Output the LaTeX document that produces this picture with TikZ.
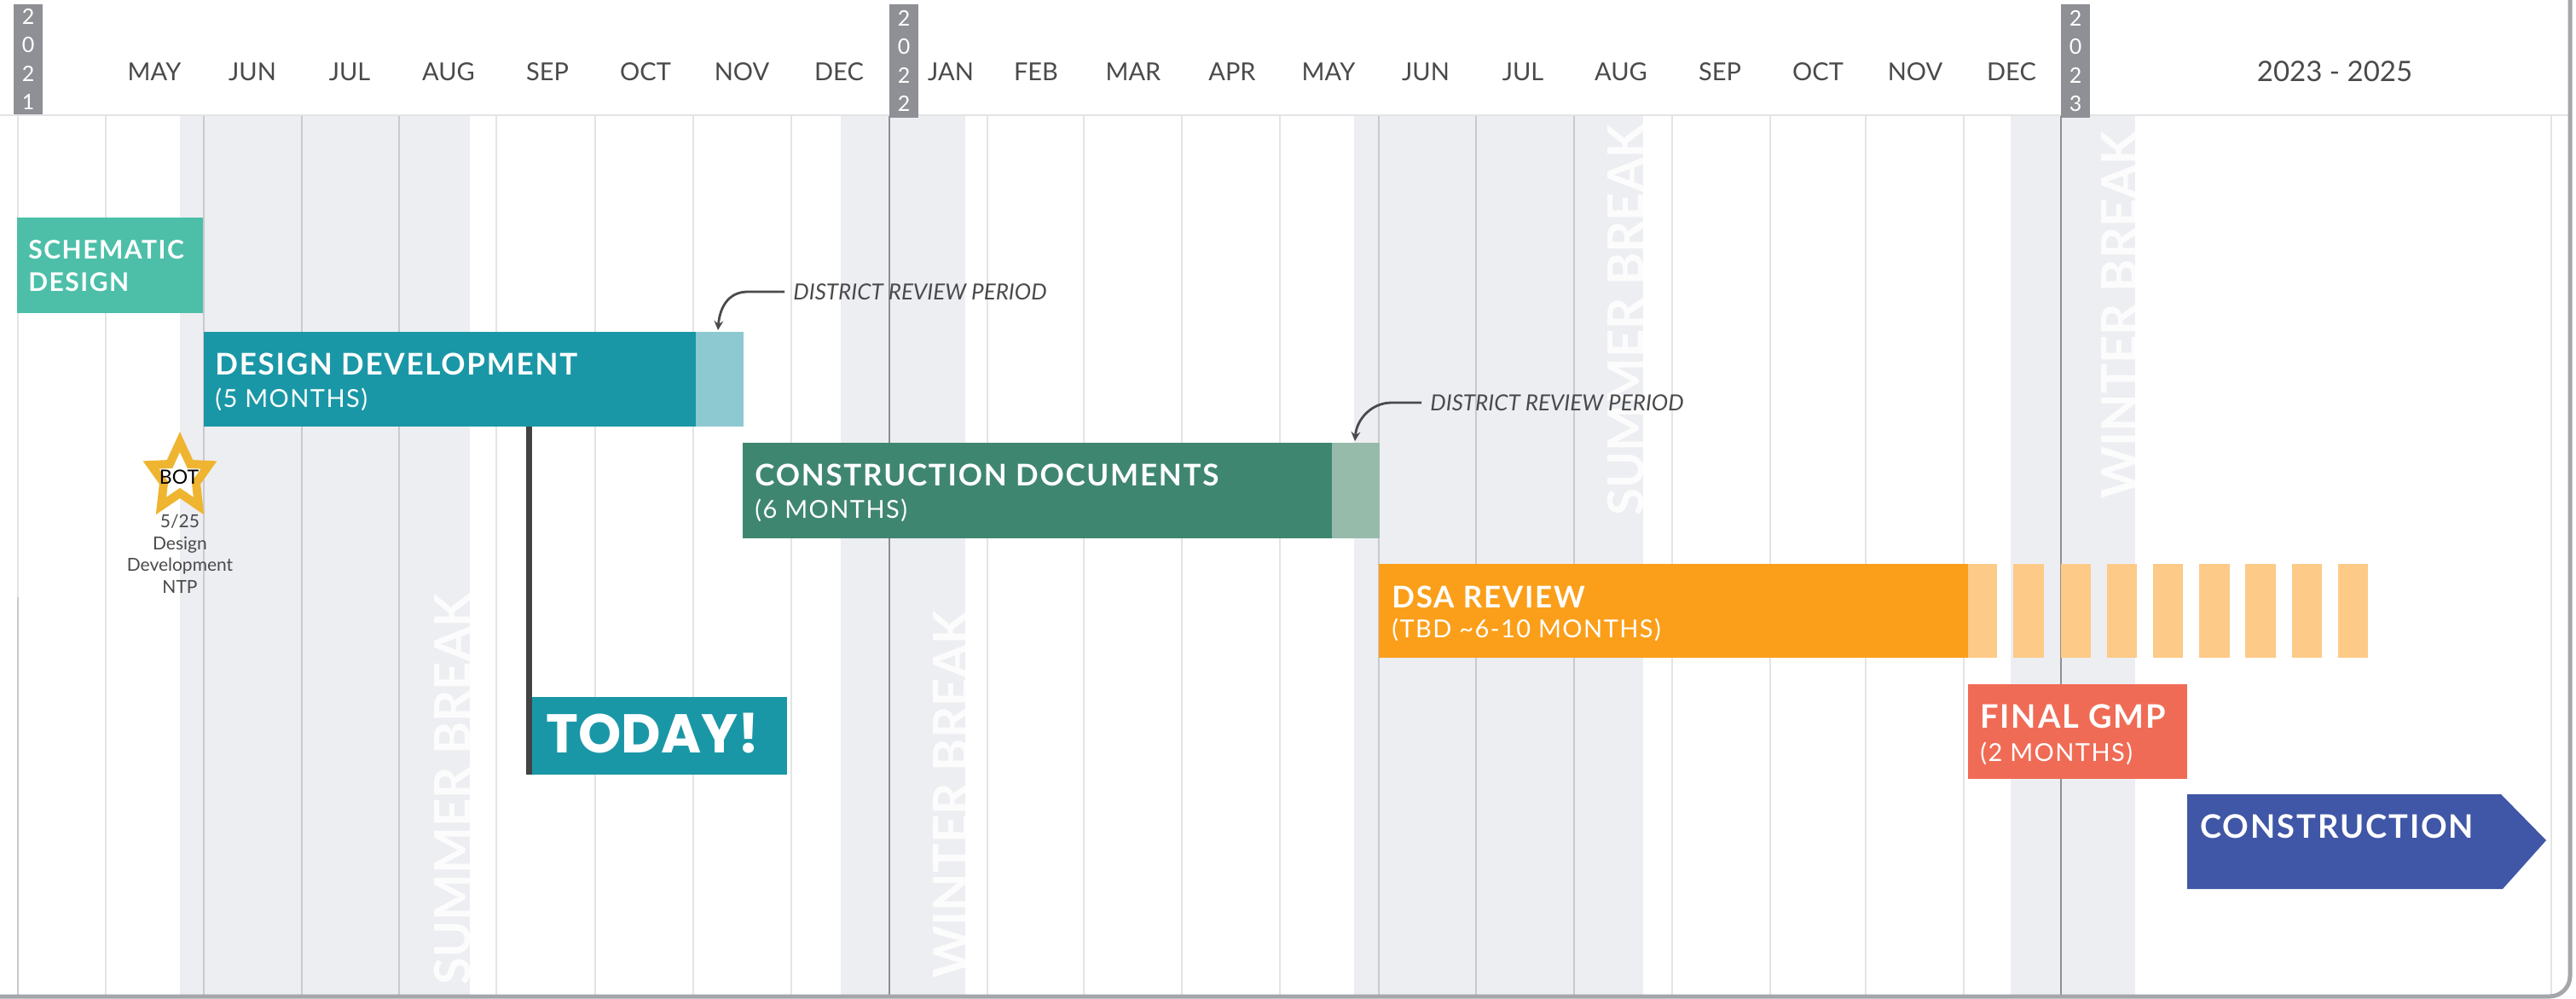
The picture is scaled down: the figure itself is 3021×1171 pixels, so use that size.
\documentclass[tikz,border=0pt]{standalone}
\usepackage{fontspec}
\setmainfont{Lato}
\newfontfamily\barfont[LetterSpace=5]{Lato}
\newfontfamily\todayfont{Poppins}
\definecolor{bandcol}{HTML}{EDEEF2}
\definecolor{gridlt}{HTML}{E4E4E6}
\definecolor{griddk}{HTML}{C9CACE}
\definecolor{tagcol}{HTML}{8F9095}
\definecolor{inkcol}{HTML}{4A4A4C}
\definecolor{sdcol}{HTML}{4DBFA9}
\definecolor{ddcol}{HTML}{1A97A6}
\definecolor{ddlt}{HTML}{8DC9D1}
\definecolor{cdcol}{HTML}{3F8670}
\definecolor{cdlt}{HTML}{96BBAB}
\definecolor{dsacol}{HTML}{FB9F1A}
\definecolor{dsalt}{HTML}{FDCA88}
\definecolor{gmpcol}{HTML}{F06B55}
\definecolor{concol}{HTML}{4056A6}
\definecolor{starcol}{HTML}{EFB531}
\tikzset{
	month/.style={font=\fontsize{14.5}{16}\selectfont, text=inkcol, inner sep=0pt},
	yeartag/.style={fill=tagcol, text=white, inner sep=0pt, minimum width=17pt, align=center,
		font=\fontsize{12.5}{16.7}\selectfont},
	barhead/.style={anchor=base west, inner sep=0pt, text=white, font=\barfont\bfseries\fontsize{17.5}{20}\selectfont},
	barbig/.style={barhead, font=\barfont\bfseries\fontsize{19}{21}\selectfont},
	barsmall/.style={barhead, font=\barfont\bfseries\fontsize{15}{17}\selectfont},
	barsub/.style={anchor=base west, inner sep=0pt, text=white, font=\barfont\fontsize{14.5}{16}\selectfont},
	breaktext/.style={rotate=90, inner sep=0pt, text=white, opacity=0.85, font=\bfseries\fontsize{29}{30}\selectfont},
	review/.style={anchor=west, inner sep=0pt, text=inkcol, font=\itshape\fontsize{13}{15}\selectfont},
	starnote/.style={inner sep=0pt, text=inkcol, align=center, font=\fontsize{10.5}{12.7}\selectfont},
}
\begin{document}
\begin{tikzpicture}[x=0.5pt, y=-0.5pt, line join=round, line cap=butt, >=stealth]
	\useasboundingbox (0,0) rectangle (3021,1171);
	% breaks
	\foreach \a/\b in {211/551, 986/1132, 1588/1927, 2358/2504}
		\fill[bandcol] (\a,135) rectangle (\b,1168);
	% month lines
	\foreach \x in {21,124,582,698,813,928,1158,1271,1386,1501,1961,2076,2188,2303,2992}
		\draw[gridlt, line width=0.9pt] (\x,135) -- (\x,1168);
	\foreach \x in {239,354,468,1617,1731,1846}
		\draw[griddk, line width=0.8pt] (\x,135) -- (\x,1168);
	\foreach \x in {1043,2417}
		\draw[tagcol, line width=1.2pt] (\x,135) -- (\x,1168);
	\draw[gridlt, line width=1.2pt] (0,135) -- (3013,135);
	\draw[griddk, line width=1pt] (21,700) -- (21,1168);
	\draw[tagcol!80, line width=2.5pt, rounded corners=12pt] (0,1168) -- (3014,1168) -- (3014,0);
	% break labels
	\node[breaktext] (summera) at (531,925) {SUMMER BREAK};
	\node[breaktext] (wintera) at (1116,931) {WINTER BREAK};
	\node[breaktext] (summerb) at (1907,375) {SUMMER BREAK};
	\node[breaktext] (winterb) at (2486,369) {WINTER BREAK};
	% header
	\foreach \x/\m in {181/MAY,296/JUN,410/JUL,526/AUG,642/SEP,757/OCT,870/NOV,984/DEC,
		1115/JAN,1215/FEB,1329/MAR,1445/APR,1558/MAY,1672/JUN,1786/JUL,1901/AUG,2017/SEP,
		2132/OCT,2246/NOV,2359/DEC}
		\node[month] (m\x) at (\x,84) {\m};
	\node[month, font=\fontsize{16.5}{18}\selectfont] (later) at (2738,84) {2023 - 2025};
	\node[yeartag, minimum height=64.5pt] (ya) at (33,69.5) {2\\0\\2\\1};
	\node[yeartag, minimum height=66.5pt] (yb) at (1060,71.5) {2\\0\\2\\2};
	\node[yeartag, minimum height=66.5pt] (yc) at (2434,71.5) {2\\0\\2\\3};
	% bars
	\fill[sdcol] (20,255) rectangle (238,367);
	\node[barsmall] (sda) at (33,304) {SCHEMATIC};
	\node[barsmall] (sdb) at (33,342) {DESIGN};
	\fill[ddcol] (239,389) rectangle (816,500);
	\fill[ddlt] (816,389) rectangle (872,500);
	\node[barhead] (dd) at (252,440) {DESIGN DEVELOPMENT};
	\node[barsub] (ddsub) at (252,478) {(5 MONTHS)};
	\fill[cdcol] (871,519) rectangle (1562,631);
	\fill[cdlt] (1562,519) rectangle (1618,631);
	\node[barhead] (cd) at (885,569) {CONSTRUCTION DOCUMENTS};
	\node[barsub] (cdsub) at (885,607) {(6 MONTHS)};
	\fill[dsacol] (1617,661) rectangle (2308,771);
	\foreach \a/\b in {2308/2342,2361/2397,2417/2452,2471/2506,2525/2560,2579/2615,2633/2669,2688/2723,2742/2777}
		\fill[dsalt] (\a,661) rectangle (\b,771);
	\node[barhead] (dsa) at (1632,712) {DSA REVIEW};
	\node[barsub] (dsasub) at (1632,747) {(TBD \textasciitilde6-10 MONTHS)};
	\fill[gmpcol] (2308,802) rectangle (2565,913);
	\node[barbig] (gmp) at (2322,853) {FINAL GMP};
	\node[barsub] (gmpsub) at (2322,892) {(2 MONTHS)};
	\fill[concol] (2565,931) -- (2933,931) -- (2986,985) -- (2935,1042) -- (2565,1042) -- cycle;
	\node[barbig] (con) at (2580,982) {CONSTRUCTION};
	% today
	\fill[inkcol!90!black] (617,500) rectangle (624,908);
	\fill[ddcol] (624,817) rectangle (923,908);
	\node[anchor=base west, inner sep=0pt, text=white, font=\todayfont\bfseries\fontsize{32}{34}\selectfont] (today) at (640,882) {TODAY!};
	% review notes
	\node[review] (reva) at (930,342) {DISTRICT REVIEW PERIOD};
	\coordinate (tipa) at (842,387);
	\draw[->, inkcol, line width=1.4pt] (reva.west) ++(-10,0) -- ++(-43,0) .. controls (853,342) and (844,362) .. (tipa);
	\node[review] (revb) at (1677,472) {DISTRICT REVIEW PERIOD};
	\coordinate (tipb) at (1589,517);
	\draw[->, inkcol, line width=1.4pt] (revb.west) ++(-10,0) -- ++(-35,0) .. controls (1608,472) and (1591,492) .. (tipb);
	% star
	\draw[starcol, fill=white, line width=5pt, line join=miter]
		(211,518) -- (223,544) -- (245,545) -- (230,566) -- (233,593) -- (211,578)
		-- (189,593) -- (192,566) -- (177,545) -- (199,544) -- cycle;
	\node[inner sep=0pt, text=black, font=\fontsize{11.5}{13}\selectfont] (bot) at (210,559) {BOT};
	\node[starnote, anchor=north] (ntp) at (211,603) {5/25\\Design\\Development\\NTP};
\end{tikzpicture}
\end{document}
